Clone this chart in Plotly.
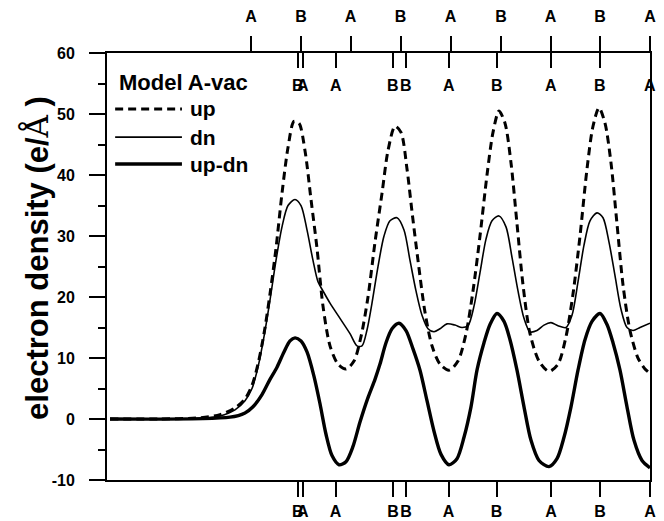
import plotly.graph_objects as go

# ---------------- data ----------------
z_up = [0.3, 5.3, 9.3, 11.3, 12.8, 13.8, 14.5, 15.1, 15.7, 16.3, 16.9, 17.5, 18.1, 18.7, 19.2, 19.8,
        20.4, 21.0, 21.6, 22.3, 23.1, 23.9, 24.7, 25.4, 26.1, 26.8, 27.5, 28.1, 28.8, 29.4, 30.0, 30.5,
        31.1, 31.8, 32.5, 33.3, 34.2, 35.1, 35.9, 36.6, 37.3, 38.0, 38.6, 39.2, 39.8, 40.4, 41.0, 41.6,
        42.3, 43.2, 44.2, 45.1, 45.9, 46.6, 47.3, 48.0, 48.6, 49.2, 49.8, 50.4, 51.0, 51.6, 52.3, 53.1,
        53.8, 54.3]
up = [0, 0, 0.2, 0.7, 1.8, 3.3, 5.5, 9, 14, 20.5, 28, 37, 44.5, 48.8, 48.5, 44,
      36, 28, 18.5, 12, 9, 8.2, 9.5, 13.5, 20, 29, 37, 44, 48, 47, 41, 34,
      26, 17.5, 12, 9, 8, 9.5, 14, 21, 30, 40, 47, 50.5, 48.5, 42, 32, 22,
      14, 9.5, 7.8, 9, 13.5, 20.5, 30, 41, 48, 51, 48.5, 42, 32, 22, 14.5, 10,
      8.2, 7.5]

z_dn = [0.3, 9.3, 11.3, 12.8, 13.8, 14.5, 15.1, 15.7, 16.3, 16.9, 17.5, 18.1, 18.8, 19.4, 20.0, 20.6,
        21.1, 21.6, 22.3, 23.3, 24.3, 25.0, 25.5, 26.0, 26.5, 27.1, 27.7, 28.3, 29.0, 29.7, 30.3, 30.9,
        31.5, 32.1, 32.7, 33.3, 34.0, 34.8, 35.5, 36.1, 36.7, 37.3, 37.9, 38.5, 39.2, 39.9, 40.5, 41.1,
        41.7, 42.3, 43.0, 43.7, 44.4, 45.1, 45.9, 46.5, 47.1, 47.7, 48.3, 49.0, 49.6, 50.2, 50.8, 51.4,
        52.0, 52.6, 53.3, 54.3]
dn = [0, 0.1, 0.5, 1.5, 3, 5, 8.5, 13.5, 19.5, 26, 31.5, 35, 36, 35, 31, 26,
      22.5, 21, 19, 16.5, 14, 12, 12, 14.6, 19, 25, 30, 32.5, 33, 31, 26, 21,
      17, 14.8, 14.3, 14.8, 15.6, 15.4, 15, 15.3, 18.5, 24, 29.5, 32.5, 33.3, 31.5, 26.5, 21,
      16.5, 14.3, 14.5, 15.4, 15.8, 15.3, 15, 17, 22.5, 28.5, 32.5, 33.8, 33, 29, 23.5, 18,
      15, 14.5, 15, 15.7]

z_diff = [0.3, 12.3, 13.8, 14.6, 15.5, 16.3, 17.0, 17.7, 18.3, 18.8, 19.4, 20.0, 20.7, 21.3, 21.9, 22.5,
          23.2, 23.9, 24.6, 25.3, 26.1, 26.8, 27.3, 27.9, 28.5, 29.2, 29.9, 30.6, 31.3, 32.0, 32.7, 33.4,
          34.2, 35.0, 35.7, 36.4, 37.0, 37.7, 38.3, 39.0, 39.7, 40.3, 41.0, 41.7, 42.4, 43.2, 44.2, 45.0,
          45.7, 46.4, 47.1, 47.8, 48.5, 49.3, 50.0, 50.6, 51.3, 52.0, 52.7, 53.5, 54.3]
up_dn = [0, 0.3, 1, 2, 4, 6.5, 8.5, 11, 12.8, 13.3, 12.8, 11, 7, 2.5, -2.5, -6,
         -7.5, -7, -4.5, -0.5, 3.5, 6.5, 9, 12.5, 14.8, 15.7, 14.5, 11.5, 8, 3, -2, -5.8,
         -7.5, -6.5, -3, 2, 8, 12.5, 15.5, 17.3, 16, 13, 8, 2, -3.5, -6.8, -7.8, -6.5,
         -3, 2, 8, 13, 16, 17.3, 15.5, 12.5, 8, 2, -3.5, -6.8, -8]

bottom_tick_pos = [19.07, 19.57, 22.85, 28.6, 29.9, 34.15, 38.95, 44.4, 49.3, 54.3]
bottom_tick_lab = ["B", "A", "A", "B", "B", "A", "B", "A", "B", "A"]
top_tick_pos = [14.4, 19.4, 24.35, 29.35, 34.35, 39.4, 44.35, 49.3, 54.3]
top_tick_lab = ["A", "B", "A", "B", "A", "B", "A", "B", "A"]
y_ticks = [-10, 0, 10, 20, 30, 40, 50, 60]
y_tick_lab = ["-10", "0", "10", "20", "30", "40", "50", "60"]

series_names = ["up", "dn", "up-dn"]
legend_title = "Model A-vac"
y_title = "<b>electron density (e/</b><span style='font-family:DejaVu Serif'>Å</span><b> )</b>"

# ---------------- figure ----------------
FONT = "Liberation Sans"
X_RANGE = [0, 54.3]
Y_RANGE = [-10.0, 60.01]
fig = go.Figure()

styles = [
    dict(color="black", width=3, dash="8px,5px"),
    dict(color="black", width=1.6),
    dict(color="black", width=3.4),
]
for zs, ys, nm, st in zip([z_up, z_dn, z_diff], [up, dn, up_dn], series_names, styles):
    fig.add_trace(go.Scatter(x=zs, y=ys, name=nm, mode="lines",
                             line=dict(shape="spline", smoothing=0.8, **st),
                             showlegend=False, cliponaxis=False))

# invisible traces to activate extra x axes
fig.add_trace(go.Scatter(x=[None], y=[None], xaxis="x2", showlegend=False))
fig.add_trace(go.Scatter(x=[None], y=[None], xaxis="x3", showlegend=False))

tickfont = dict(family=FONT, size=16, color="black", weight="bold")

# page body has an 8px margin, so the figure is a bit smaller than the window
fig.update_layout(
    width=656, height=513,
    margin=dict(l=99, r=14, t=45, b=41, autoexpand=False),
    paper_bgcolor="white", plot_bgcolor="white",
    showlegend=False,
    xaxis=dict(range=X_RANGE, tickmode="array", tickvals=bottom_tick_pos, ticktext=bottom_tick_lab,
               ticks="outside", ticklen=15, tickwidth=2, tickcolor="black", tickangle=0,
               showline=True, linewidth=2, linecolor="black", mirror=True, automargin=False,
               showgrid=False, zeroline=False, tickfont=tickfont, ticklabelstandoff=1),
    xaxis2=dict(range=X_RANGE, overlaying="x", side="top", tickmode="array",
                tickvals=top_tick_pos, ticktext=top_tick_lab, automargin=False,
                ticks="outside", ticklen=16, tickwidth=2, tickcolor="black", tickangle=0,
                showline=False, showgrid=False, zeroline=False, tickfont=tickfont,
                ticklabelstandoff=8),
    xaxis3=dict(range=X_RANGE, overlaying="x", side="top", tickmode="array",
                tickvals=bottom_tick_pos, automargin=False, showticklabels=False,
                ticks="inside", ticklen=15, tickwidth=2, tickcolor="black",
                showline=False, showgrid=False, zeroline=False),
    yaxis=dict(range=Y_RANGE, tickmode="array", tickvals=y_ticks, ticktext=y_tick_lab,
               ticks="outside", ticklen=16, tickwidth=2, tickcolor="black", automargin=False,
               minor=dict(ticks="outside", ticklen=7, tickwidth=2, tickcolor="black", dtick=5, tick0=0),
               showline=True, linewidth=2, linecolor="black", mirror=True,
               showgrid=False, zeroline=False, tickfont=tickfont, ticklabelstandoff=11),
)

# labels of the mirrored (inner) top ticks
for xv, lab in zip(bottom_tick_pos, bottom_tick_lab):
    fig.add_annotation(xref="x", yref="paper", x=xv, y=0.925, text=lab, showarrow=False,
                       xanchor="center", yanchor="middle",
                       font=dict(family=FONT, size=16, color="black", weight="bold"))

# y-axis title
fig.add_annotation(xref="paper", yref="paper", x=-0.129, y=0.52, text=y_title, textangle=-90,
                   showarrow=False, xanchor="center", yanchor="middle",
                   font=dict(family=FONT, size=31, color="black"))

# manual legend (long line samples)
lx0, lx1, ltx = 0.015, 0.138, 0.149
rows = [0.869, 0.803, 0.740]
for nm, st, ry in zip(series_names, styles, rows):
    fig.add_shape(type="line", xref="paper", yref="paper", x0=lx0, x1=lx1, y0=ry, y1=ry,
                  line=dict(color="black", width=st["width"], dash=st.get("dash", "solid")))
    fig.add_annotation(xref="paper", yref="paper", x=ltx, y=ry, text="<b>%s</b>" % nm,
                       showarrow=False, xanchor="left", yanchor="middle",
                       font=dict(family=FONT, size=21, color="black"))
fig.add_annotation(xref="paper", yref="paper", x=0.018, y=0.930, text="<b>%s</b>" % legend_title,
                   showarrow=False, xanchor="left", yanchor="middle",
                   font=dict(family=FONT, size=22, color="black"))

fig.write_html("out.html")
